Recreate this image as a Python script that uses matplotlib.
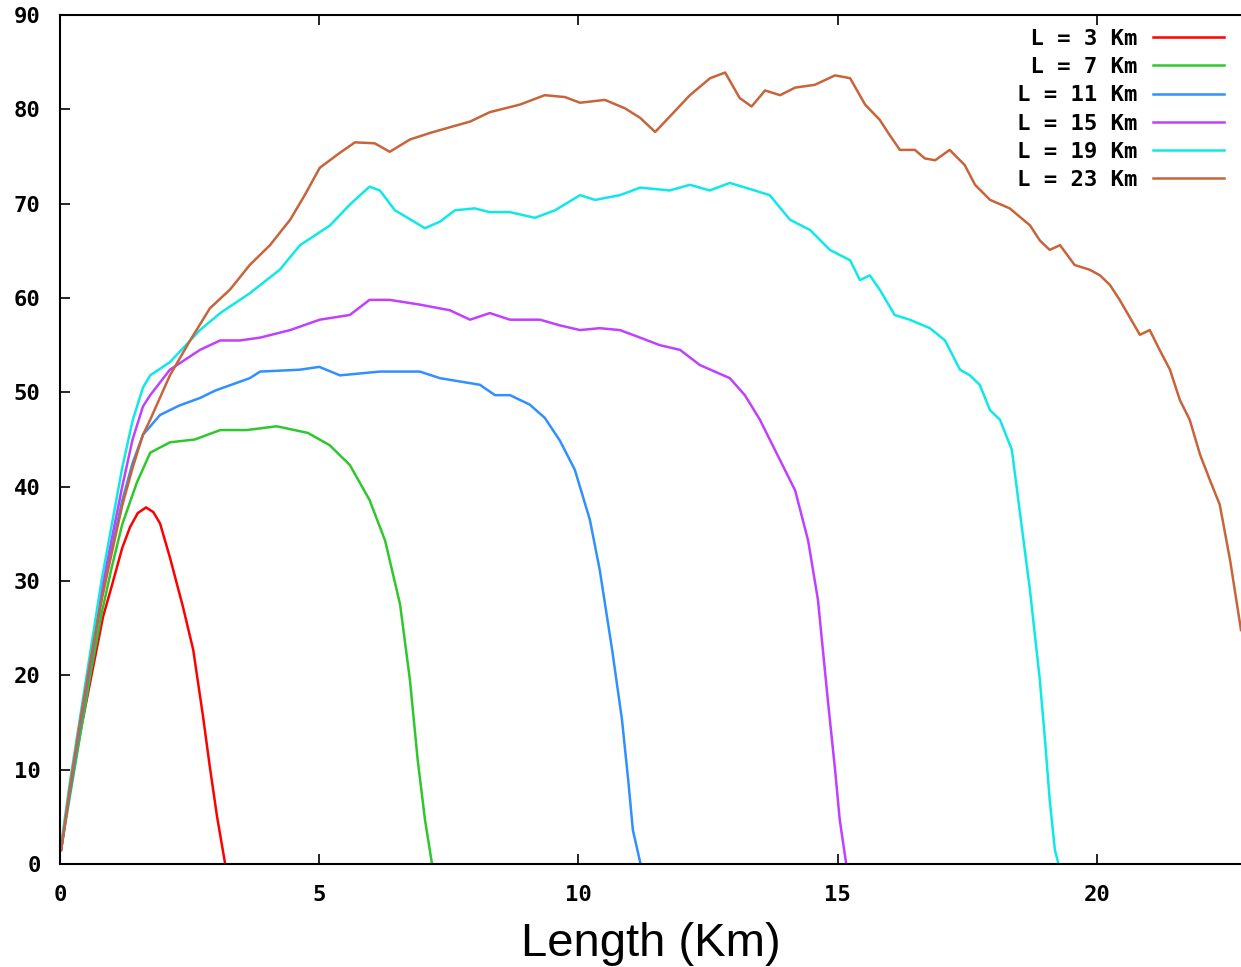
import numpy as np
import matplotlib.pyplot as plt

# curves: length (Km) and value for each L
x_l3 = [0.02, 0.13, 0.39, 0.64, 0.83, 1.0, 1.2, 1.35, 1.5, 1.66, 1.8, 1.93, 2.12, 2.37, 2.57, 2.76, 2.89, 3.03, 3.18]
y_l3 = [1.5, 5.7, 13.9, 20.9, 26.2, 29.5, 33.5, 35.7, 37.2, 37.8, 37.3, 36.1, 32.5, 27.3, 22.7, 15.6, 10.3, 5.0, 0.2]

x_l7 = [0.02, 0.2, 0.4, 0.6, 0.8, 1.0, 1.2, 1.48, 1.74, 2.12, 2.6, 3.09, 3.6, 4.18, 4.78, 5.2, 5.59, 5.97, 6.27, 6.56, 6.75, 6.9, 7.04, 7.17]
y_l7 = [1.5, 7.5, 14.0, 20.5, 26.5, 31.5, 36.0, 40.4, 43.6, 44.7, 45.0, 46.0, 46.0, 46.4, 45.7, 44.4, 42.3, 38.6, 34.3, 27.5, 19.5, 11.0, 4.7, 0.2]

x_l11 = [0.02, 0.2, 0.4, 0.6, 0.8, 1.0, 1.2, 1.4, 1.6, 1.93, 2.3, 2.7, 3.0, 3.66, 3.86, 4.63, 5.0, 5.4, 6.17, 6.94, 7.33, 8.1, 8.39, 8.68,
         9.06, 9.35, 9.64, 9.93, 10.22, 10.41, 10.65, 10.84, 10.96, 11.05, 11.19]
y_l11 = [1.5, 8.0, 15.0, 21.5, 28.0, 33.5, 38.5, 42.5, 45.5, 47.6, 48.6, 49.4, 50.2, 51.5, 52.2, 52.4, 52.7, 51.8, 52.2, 52.2, 51.5, 50.8, 49.7, 49.7,
         48.7, 47.3, 44.9, 41.8, 36.5, 31.2, 22.7, 15.3, 8.9, 3.6, 0.2]

x_l15 = [0.02, 0.2, 0.4, 0.6, 0.8, 1.0, 1.2, 1.4, 1.6, 1.74, 2.12, 2.7, 3.09, 3.47, 3.86, 4.44, 5.01, 5.59, 5.97, 6.36, 6.94, 7.52, 7.91,
         8.29, 8.68, 9.26, 9.64, 10.03, 10.41, 10.8, 11.19, 11.57, 11.96, 12.34, 12.92, 13.21, 13.5, 13.89, 14.18, 14.43, 14.62, 14.81,
         14.95, 15.04, 15.16]
y_l15 = [1.5, 8.5, 15.5, 22.0, 29.0, 34.5, 40.0, 45.0, 48.5, 49.7, 52.4, 54.5, 55.5, 55.5, 55.8, 56.6, 57.7, 58.2, 59.8, 59.8, 59.3, 58.7, 57.7,
         58.4, 57.7, 57.7, 57.1, 56.6, 56.8, 56.6, 55.8, 55.0, 54.5, 52.9, 51.5, 49.7, 47.1, 42.8, 39.6, 34.3, 28.0, 17.4,
         10.0, 4.7, 0.2]

x_l19 = [0.02, 0.2, 0.4, 0.6, 0.8, 1.0, 1.2, 1.4, 1.6, 1.74, 2.12, 2.7, 3.09, 3.66, 4.24, 4.63, 5.21, 5.59, 5.97, 6.17, 6.46, 7.04, 7.33,
         7.62, 8.0, 8.29, 8.68, 9.16, 9.55, 10.03, 10.32, 10.8, 11.19, 11.76, 12.15, 12.53, 12.92, 13.4, 13.69, 14.08, 14.47, 14.85,
         15.24, 15.43, 15.62, 15.81, 16.1, 16.39, 16.78, 17.07, 17.36, 17.55, 17.74, 17.94, 18.13, 18.36, 18.51, 18.71, 18.9, 19.0,
         19.09, 19.19, 19.25]
y_l19 = [2.0, 9.0, 16.0, 23.0, 30.0, 36.0, 42.0, 47.0, 50.5, 51.8, 53.2, 56.6, 58.4, 60.5, 63.0, 65.6, 67.7, 69.9, 71.8, 71.4, 69.3, 67.4, 68.1,
         69.3, 69.5, 69.1, 69.1, 68.5, 69.3, 70.9, 70.4, 70.9, 71.7, 71.4, 72.0, 71.4, 72.2, 71.4, 70.9, 68.3, 67.2, 65.1,
         64.0, 61.9, 62.4, 60.9, 58.2, 57.7, 56.8, 55.5, 52.4, 51.8, 50.8, 48.1, 47.1, 43.9, 37.5, 29.0, 19.5, 13.1,
         6.8, 1.5, 0.2]

x_l23 = [0.02, 0.2, 0.4, 0.6, 0.8, 1.0, 1.2, 1.4, 1.6, 1.74, 2.12, 2.51, 2.89, 3.28, 3.66, 4.05, 4.44, 4.72, 5.01, 5.4, 5.69, 6.07, 6.36,
         6.75, 7.14, 7.52, 7.91, 8.29, 8.87, 9.35, 9.74, 10.03, 10.51, 10.9, 11.19, 11.48, 11.67, 12.15, 12.54, 12.83, 13.11, 13.34,
         13.6, 13.89, 14.18, 14.56, 14.95, 15.24, 15.53, 15.81, 16.0, 16.2, 16.49, 16.68, 16.88, 17.16, 17.45, 17.65, 17.94, 18.32,
         18.71, 18.9, 19.09, 19.29, 19.57, 19.86, 20.06, 20.25, 20.44, 20.64, 20.83, 21.02, 21.21, 21.41, 21.6, 21.79, 21.99,
         22.18, 22.37, 22.57, 22.78]
y_l23 = [1.5, 8.5, 15.5, 22.0, 28.0, 33.0, 38.0, 42.0, 45.5, 47.1, 51.8, 55.5, 58.9, 60.9, 63.5, 65.6, 68.3, 70.9, 73.8, 75.4, 76.5, 76.4, 75.5,
         76.8, 77.5, 78.1, 78.7, 79.7, 80.5, 81.5, 81.3, 80.7, 81.0, 80.1, 79.1, 77.6, 78.7, 81.5, 83.3, 83.9, 81.2, 80.3,
         82.0, 81.5, 82.3, 82.6, 83.6, 83.3, 80.5, 78.9, 77.3, 75.7, 75.7, 74.8, 74.6, 75.7, 74.1, 72.0, 70.4, 69.5,
         67.7, 66.1, 65.1, 65.6, 63.5, 63.0, 62.4, 61.4, 59.8, 57.9, 56.1, 56.6, 54.5, 52.4, 49.2, 47.1, 43.4,
         40.7, 38.1, 32.2, 24.8]

labels = ['L = 3 Km', 'L = 7 Km', 'L = 11 Km', 'L = 15 Km', 'L = 19 Km', 'L = 23 Km']
colors = ['#ff0000', '#2ec82e', '#3090ff', '#c040ff', '#10e8e8', '#c8643a']
series = [(x_l3, y_l3), (x_l7, y_l7), (x_l11, y_l11), (x_l15, y_l15), (x_l19, y_l19), (x_l23, y_l23)]

mono = {'family': 'DejaVu Sans Mono', 'weight': 'bold', 'size': 16}

fig = plt.figure(figsize=(12.41, 9.67), dpi=100)
ax = fig.add_axes([60 / 1241, 103 / 967, 1 - 60 / 1241, 849 / 967])

width = max(len(s) for s in labels)
for (xs, ys), lab, c in zip(series, labels, colors):
    ax.plot(xs, ys, color=c, lw=1.8, label=lab.rjust(width))

ax.set_xlim(0, 22.78)
ax.set_ylim(0, 90)
ax.set_xticks([0, 5, 10, 15, 20])
ax.set_yticks(np.arange(0, 91, 10))
ax.tick_params(direction='in', length=7, width=1.2, top=True, right=False)
ax.tick_params(axis='x', pad=15)
ax.tick_params(axis='y', pad=14)
for t in ax.get_xticklabels() + ax.get_yticklabels():
    t.set_fontproperties(mono)
for side in ['left', 'bottom', 'top']:
    ax.spines[side].set_linewidth(1.5)
ax.spines['right'].set_visible(False)

ax.set_xlabel('Length (Km)', family='Liberation Sans', fontsize=34, labelpad=12)

ax.legend(loc='upper right', bbox_to_anchor=(0.993, 0.994), frameon=False, markerfirst=False,
          prop=mono, handlelength=3.2, handletextpad=0.7, labelspacing=0.37, borderaxespad=0)

fig.savefig('out.png', dpi=100)
